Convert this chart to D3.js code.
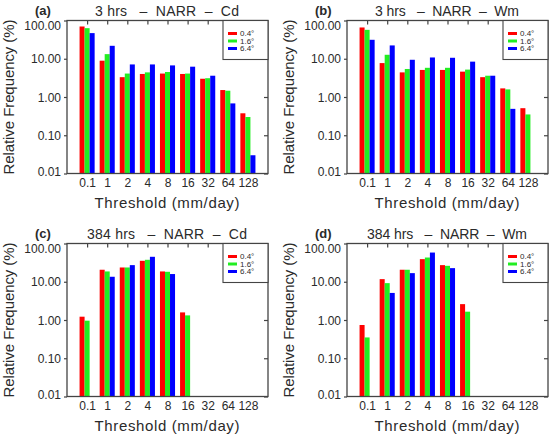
<!DOCTYPE html>
<html><head><meta charset="utf-8">
<script src="https://cdn.jsdelivr.net/npm/d3@7"></script>
<style>
body{margin:0;background:#fff}
svg{display:block}
text{font-family:"Liberation Sans",Arial,Helvetica,sans-serif;fill:#2a2a2a}
</style>
</head><body>
<script>
// ---------- data ----------
const thresholds = ["0.1","1","2","4","8","16","32","64","128"];
const resolutions = ["0.4°","1.6°","6.4°"];
const colors = ["#ff0000","#22ee22","#0000ff"];
const panelLabels = ["(a)","(b)","(c)","(d)"];
const panelTitles = ["3 hrs   –  NARR  –  Cd","3 hrs   –  NARR  –  Wm","384 hrs   –  NARR  –  Cd","384 hrs   –  NARR  –  Wm"];
const yTickValues = [0.01,0.1,1,10,100];

// (a) 3 hrs NARR Cd
const a_04 = [69.7, 8.9, 3.3, 4.0, 4.1, 4.0, 3.0, 1.52, 0.375];
const a_16 = [63.0, 13.2, 4.1, 4.4, 4.5, 4.1, 3.1, 1.46, 0.30];
const a_64 = [46.8, 21.8, 7.1, 7.1, 6.7, 6.2, 3.6, 0.68, 0.030];
// (b) 3 hrs NARR Wm
const b_04 = [65.7, 7.7, 4.4, 5.1, 5.1, 4.6, 3.3, 1.68, 0.51];
const b_16 = [57.0, 12.7, 5.4, 5.8, 5.8, 5.2, 3.6, 1.58, 0.35];
const b_64 = [31.3, 22.3, 9.4, 10.8, 10.6, 8.4, 3.6, 0.49, null];
// (c) 384 hrs NARR Cd
const c_04 = [1.22, 20.6, 23.6, 35.3, 18.6, 1.58, null, null, null];
const c_16 = [0.96, 18.6, 23.6, 37.5, 18.2, 1.32, null, null, null];
const c_64 = [null, 13.5, 27.2, 44.9, 15.9, null, null, null, null];
// (d) 384 hrs NARR Wm
const d_04 = [0.74, 11.7, 20.6, 39.0, 27.2, 2.6, null, null, null];
const d_16 = [0.35, 9.2, 20.6, 43.0, 26.1, 1.65, null, null, null];
const d_64 = [null, 5.1, 16.8, 58.0, 22.7, null, null, null, null];

const panelSeries = [[a_04,a_16,a_64],[b_04,b_16,b_64],[c_04,c_16,c_64],[d_04,d_16,d_64]];

// ---------- layout ----------
const W = 550, H = 435;
const lefts = [67, 347], tops = [20.5, 243.5];
const pw = 201, ph = 153;

const svg = d3.select("body").append("svg").attr("width", W).attr("height", H);

panelSeries.forEach((series, p) => {
  const left = lefts[p % 2], top = tops[Math.floor(p / 2)];
  const g = svg.append("g");
  const x = d3.scaleLinear().domain([-1, 9]).range([left, left + pw]);
  const y = d3.scaleLog().domain([0.01, 100]).range([top + ph, top]);
  const bw = x(0.25) - x(0);

  // bars
  series.forEach((vals, s) => {
    g.selectAll(null).data(vals.map((v, i) => ({v, i})).filter(d => d.v != null))
      .enter().append("rect")
      .attr("x", d => x(d.i - 0.375 + s * 0.25))
      .attr("width", bw)
      .attr("y", d => y(d.v))
      .attr("height", d => y(0.01) - y(d.v))
      .attr("fill", colors[s]);
  });

  // left axis (labels + ticks)
  const ya = g.append("g").attr("transform", `translate(${left},0)`)
    .call(d3.axisLeft(y).tickValues(yTickValues).tickFormat(d3.format(".2f")).tickSize(3).tickPadding(3));
  ya.select(".domain").remove();
  ya.selectAll("line").attr("stroke", "#444").attr("stroke-width", 1.2);
  ya.selectAll("text").attr("font-size", 12).attr("fill", "#2a2a2a")
    .attr("dy", d => d === 100 ? "0.75em" : d === 0.01 ? "0.15em" : "0.35em");

  // right inner ticks
  const yr = g.append("g").attr("transform", `translate(${left + pw},0)`)
    .call(d3.axisRight(y).tickValues(yTickValues).tickFormat("").tickSize(-4));
  yr.select(".domain").remove();
  yr.selectAll("line").attr("stroke", "#444").attr("stroke-width", 1.2);

  // top inner ticks
  const xt = g.append("g").attr("transform", `translate(0,${top})`)
    .call(d3.axisTop(x).tickValues(d3.range(thresholds.length)).tickFormat("").tickSize(-4));
  xt.select(".domain").remove();
  xt.selectAll("line").attr("stroke", "#444").attr("stroke-width", 1.2);

  // bottom labels
  const xb = g.append("g").attr("transform", `translate(0,${top + ph})`)
    .call(d3.axisBottom(x).tickValues(d3.range(thresholds.length)).tickFormat(i => thresholds[i]).tickSize(0).tickPadding(5));
  xb.select(".domain").remove();
  xb.selectAll("text").attr("font-size", 12).attr("fill", "#2a2a2a");

  // box
  g.append("rect").attr("x", left).attr("y", top).attr("width", pw).attr("height", ph)
    .attr("fill", "none").attr("stroke", "#444").attr("stroke-width", 1.3);

  // legend
  const lx = left + pw - 45, ly = top;
  g.append("rect").attr("x", lx).attr("y", ly).attr("width", 45).attr("height", 39)
    .attr("fill", "#fff").attr("stroke", "#444").attr("stroke-width", 1.1);
  resolutions.forEach((r, s) => {
    const yy = ly + 13 + s * 7.5;
    g.append("line").attr("x1", lx + 5).attr("x2", lx + 14).attr("y1", yy).attr("y2", yy)
      .attr("stroke", colors[s]).attr("stroke-width", 3);
    g.append("text").attr("x", lx + 17).attr("y", yy).attr("dy", "0.35em")
      .attr("font-size", 8).text(r);
  });

  // title
  g.append("text").attr("x", left + 100).attr("y", top - 5)
    .attr("text-anchor", "middle").attr("font-size", 14)
    .attr("textLength", p < 2 ? 144 : 160).attr("lengthAdjust", "spacing")
    .style("white-space", "pre").text(panelTitles[p]);

  // panel label
  g.append("text").attr("x", left - 32).attr("y", top - 6)
    .attr("font-family", "'Liberation Serif','Times New Roman',serif")
    .attr("font-weight", "bold").attr("font-size", 13).text(panelLabels[p]);

  // axis titles
  g.append("text").attr("x", left + 100).attr("y", top + ph + 34)
    .attr("text-anchor", "middle").attr("font-size", 15)
    .attr("textLength", 145).attr("lengthAdjust", "spacing").text("Threshold (mm/day)");
  g.append("text").attr("transform", `translate(${left - 53},${top + ph / 2}) rotate(-90)`)
    .attr("text-anchor", "middle").attr("font-size", 15)
    .attr("textLength", 155).attr("lengthAdjust", "spacing").text("Relative Frequency (%)");
});
</script>
</body></html>
